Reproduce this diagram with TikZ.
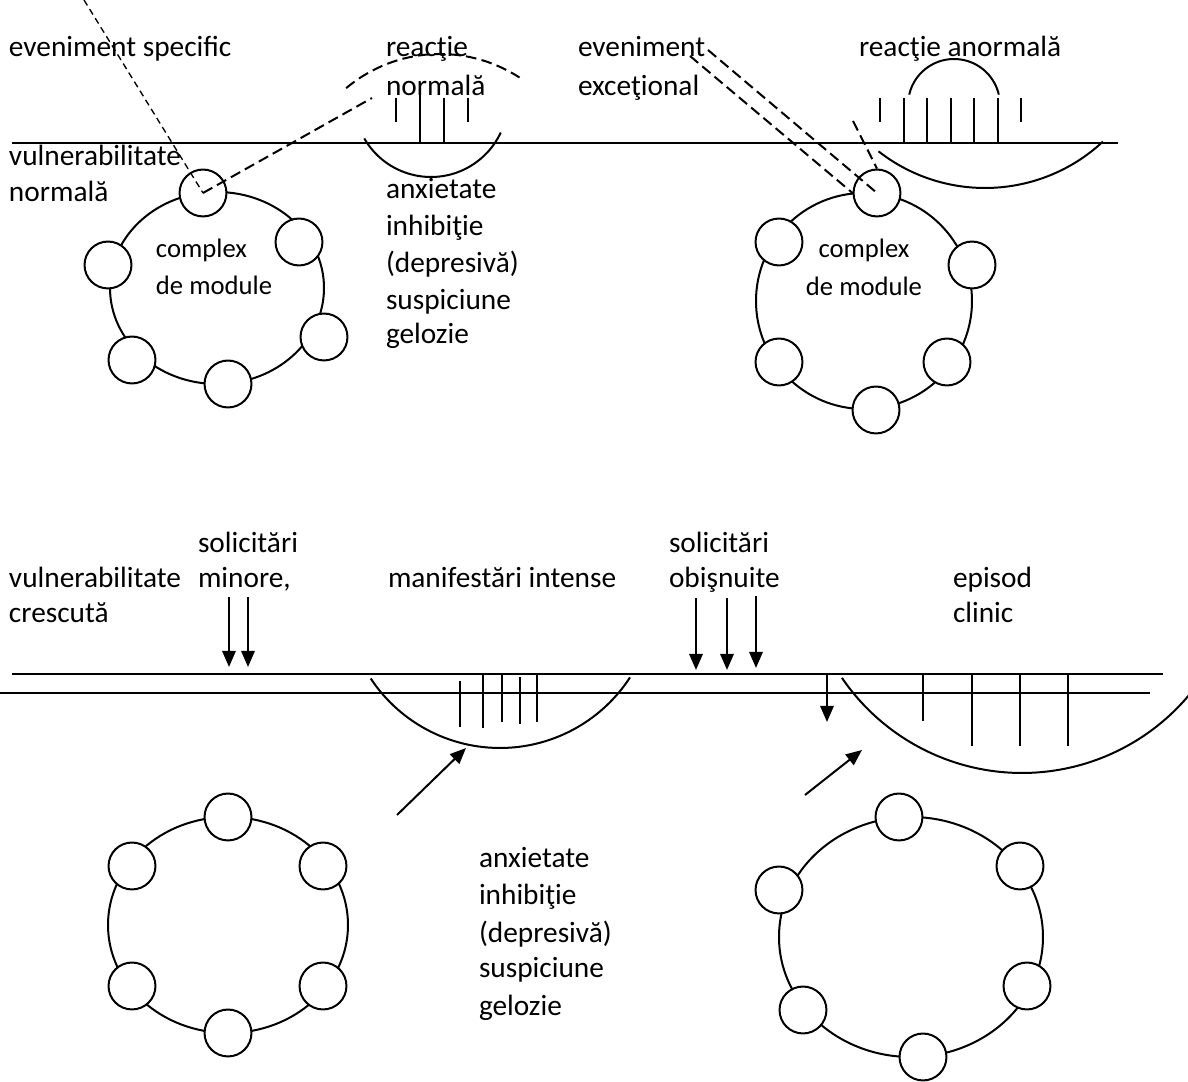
\documentclass[tikz,border=0pt]{standalone}
\usepackage{fontspec}
\setmainfont{Carlito}
\usetikzlibrary{arrows.meta}
\begin{document}
\begin{tikzpicture}[x=0.375pt, y=-0.375pt, line width=0.75pt,
  lbl/.style={anchor=base west, inner sep=0pt, font=\fontsize{11}{13}\selectfont},
  lblc/.style={anchor=base, inner sep=0pt, font=\fontsize{10}{12}\selectfont},
  lbls/.style={anchor=base west, inner sep=0pt, font=\fontsize{10}{12}\selectfont},
  mod/.style={circle, draw, fill=white, minimum size=17.6pt, inner sep=0pt},
  dsh/.style={dash pattern=on 4pt off 2pt},
  fin/.style={dash pattern=on 2.4pt off 1.6pt, line width=0.5pt},
  arr/.style={-{Triangle[length=6pt,width=5pt]}}]
\useasboundingbox (0,0) rectangle (1188,1082);

% ---------- upper panel ----------
\coordinate (ua) at (12,143);
\coordinate (ub) at (1118,143);
\draw (ua) -- (ub);

% labels
\node[lbl] (t1) at (8,57) {eveniment specific};
\node[lbl] (t2) at (385,57) {reacţie};
\node[lbl] (t3) at (385,96) {normală};
\node[lbl] (t4) at (577,57) {eveniment};
\node[lbl] (t5) at (577,96) {exceţional};
\node[lbl] (t6) at (858,57) {reacţie anormală};
\node[lbl] (t7) at (8,166) {vulnerabilitate};
\node[lbl] (t8) at (8,202) {normală};
\node[lbl] (s1) at (385,199) {anxietate};
\node[lbl] (s2) at (385,236) {inhibiţie};
\node[lbl] (s3) at (385,273) {(depresivă)};
\node[lbl] (s4) at (385,310) {suspiciune};
\node[lbl] (s5) at (385,344) {gelozie};

% module complex, normal vulnerability
\draw (217,288) ellipse [x radius=107, y radius=96];
\node[mod] (a1) at (203,193) {};
\node[mod] (a2) at (299,242) {};
\node[mod] (a3) at (108,265) {};
\node[mod] (a4) at (324,337) {};
\node[mod] (a5) at (132,360) {};
\node[mod] (a6) at (228,384) {};
\node[lbls] (c1) at (155,258) {complex};
\node[lbls] (c2) at (155,295) {de module};

% specific event and normal reaction
\coordinate (e1) at (84,0);
\coordinate (e2) at (372,98);
\draw[fin] (e1) -- (a1.center);
\draw[dsh] (a1.center) -- (e2);
\draw[dsh] (440,200) ++(-130:146) arc[start angle=-130, end angle=-57, radius=146];
\draw (431,100) ++(150:77) arc[start angle=150, end angle=25, radius=77];
\draw (396,98) -- (396,122);
\draw (420,95) -- (420,143);
\draw (444,98) -- (444,143);
\draw (468,98) -- (468,122);

% module complex, exceptional event
\draw (864,301) circle [radius=108];
\node[mod] (b1) at (877,193) {};
\node[mod] (b2) at (779,242) {};
\node[mod] (b3) at (972,265) {};
\node[mod] (b4) at (779,362) {};
\node[mod] (b5) at (947,362) {};
\node[mod] (b6) at (876,410) {};
\node[lblc] (c3) at (864,258) {complex};
\node[lblc] (c4) at (864,296) {de module};

\coordinate (f1) at (690,56);
\coordinate (f2) at (708,50);
\coordinate (f3) at (853,121);
\draw[dsh] (f1) -- (b1.west);
\draw[dsh] (f2) -- (b1.center);
\draw[dsh] (f3) -- (b1.north);

% abnormal reaction
\draw (954,105) ++(-167:46) arc[start angle=-167, end angle=-13, radius=46];
\draw (880,98) -- (880,122);
\foreach \x in {904,927,951,974,998} \draw (\x,98) -- (\x,143);
\draw (1021,98) -- (1021,122);
\draw (985,15) ++(128:173) arc[start angle=128, end angle=47, radius=173];

% ---------- lower panel ----------
\coordinate (la) at (12,674);
\coordinate (lb) at (1163,674);
\coordinate (lc) at (0,693);
\coordinate (ld) at (1150,693);
\draw (la) -- (lb);
\draw (lc) -- (ld);

\node[lbl] (u1) at (197,553) {solicitări};
\node[lbl] (u2) at (197,588) {minore,};
\node[lbl] (u3) at (8,588) {vulnerabilitate};
\node[lbl] (u4) at (8,623) {crescută};
\node[lbl] (u5) at (387,588) {manifestări intense};
\node[lbl] (u6) at (668,553) {solicitări};
\node[lbl] (u7) at (668,588) {obişnuite};
\node[lbl] (u8) at (952,588) {episod};
\node[lbl] (u9) at (952,623) {clinic};
\node[lbl] (v1) at (478,868) {anxietate};
\node[lbl] (v2) at (478,905) {inhibiţie};
\node[lbl] (v3) at (478,943) {(depresivă)};
\node[lbl] (v4) at (478,978) {suspiciune};
\node[lbl] (v5) at (478,1016) {gelozie};

% minor demands
\coordinate (m1s) at (229,597); \coordinate (m1e) at (229,667);
\coordinate (m2s) at (248,597); \coordinate (m2e) at (248,667);
\draw[arr] (m1s) -- (m1e);
\draw[arr] (m2s) -- (m2e);

% usual demands
\coordinate (o1s) at (696,598); \coordinate (o1e) at (696,670);
\coordinate (o2s) at (727,598); \coordinate (o2e) at (727,670);
\coordinate (o3s) at (756,596); \coordinate (o3e) at (756,668);
\draw[arr] (o1s) -- (o1e);
\draw[arr] (o2s) -- (o2e);
\draw[arr] (o3s) -- (o3e);
\coordinate (o4s) at (827,674); \coordinate (o4e) at (827,722);
\draw[arr] (o4s) -- (o4e);

% intense manifestations
\draw (500,593) ++(146.5:155) arc[start angle=146.5, end angle=33, radius=155];
\draw (460,681) -- (460,727);
\draw (483,674) -- (483,728);
\draw (502,674) -- (502,722);
\draw (520,677) -- (520,724);
\draw (537,674) -- (537,722);
\coordinate (p1s) at (397,815); \coordinate (p1e) at (466,748);
\draw[arr] (p1s) -- (p1e);

% clinical episode
\draw (1022,555) ++(145.7:218) arc[start angle=145.7, end angle=40, radius=218];
\draw (923,674) -- (923,721);
\foreach \x in {972,1020,1068} \draw (\x,674) -- (\x,746);
\coordinate (p2s) at (805,795); \coordinate (p2e) at (862,750);
\draw[arr] (p2s) -- (p2e);

% module complexes, increased vulnerability
\draw (228,925) ellipse [x radius=120, y radius=108];
\node[mod] (g1) at (228,817) {};
\node[mod] (g2) at (132,866) {};
\node[mod] (g3) at (323,866) {};
\node[mod] (g4) at (132,986) {};
\node[mod] (g5) at (323,986) {};
\node[mod] (g6) at (228,1033) {};

\draw (911,937) ellipse [x radius=132, y radius=120];
\node[mod] (h1) at (899,817) {};
\node[mod] (h2) at (1020,866) {};
\node[mod] (h3) at (779,890) {};
\node[mod] (h4) at (1027,986) {};
\node[mod] (h5) at (803,1010) {};
\node[mod] (h6) at (923,1057) {};
\end{tikzpicture}
\end{document}
